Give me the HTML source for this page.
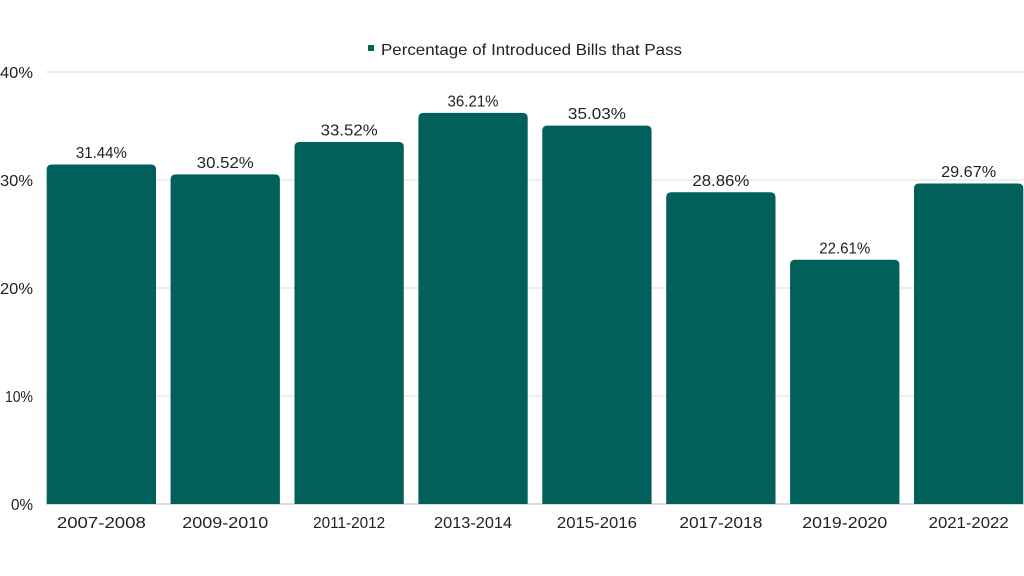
<!DOCTYPE html>
<html>
<head>
<meta charset="utf-8">
<style>
html,body{margin:0;padding:0;background:#fff;}
svg{display:block;}
text{font-family:"Liberation Sans",sans-serif;fill:#222;}
</style>
</head>
<body>
<svg width="1024" height="576" viewBox="0 0 1024 576" xmlns="http://www.w3.org/2000/svg">
<rect width="1024" height="576" fill="#fff"/>
<!-- legend -->
<rect x="368" y="45" width="6" height="6" fill="#02605a"/>
<text x="381" y="55" font-size="16" textLength="301" lengthAdjust="spacingAndGlyphs">Percentage of Introduced Bills that Pass</text>
<!-- gridlines -->
<g stroke="#e8e8e8" stroke-width="1.5">
<line x1="46" y1="72" x2="1024" y2="72"/>
<line x1="46" y1="180" x2="1024" y2="180"/>
<line x1="46" y1="288" x2="1024" y2="288"/>
<line x1="46" y1="396" x2="1024" y2="396"/>
</g>
<line x1="46" y1="504" x2="1024" y2="504" stroke="#d0d0d0" stroke-width="1.5"/>
<!-- y labels -->
<g font-size="16" text-anchor="end">
<text x="33" y="78" textLength="33" lengthAdjust="spacingAndGlyphs">40%</text>
<text x="33" y="186" textLength="33" lengthAdjust="spacingAndGlyphs">30%</text>
<text x="33" y="294" textLength="33" lengthAdjust="spacingAndGlyphs">20%</text>
<text x="33" y="402" textLength="28" lengthAdjust="spacingAndGlyphs">10%</text>
<text x="33" y="510" textLength="22" lengthAdjust="spacingAndGlyphs">0%</text>
</g>
<!-- bars -->
<g fill="#02605a">
<path d="M46.7,504 V169.45 Q46.7,164.45 51.7,164.45 H151 Q156,164.45 156,169.45 V504 Z"/>
<path d="M170.6,504 V179.38 Q170.6,174.38 175.6,174.38 H274.9 Q279.9,174.38 279.9,179.38 V504 Z"/>
<path d="M294.5,504 V146.98 Q294.5,141.98 299.5,141.98 H398.8 Q403.8,141.98 403.8,146.98 V504 Z"/>
<path d="M418.4,504 V117.93 Q418.4,112.93 423.4,112.93 H522.7 Q527.7,112.93 527.7,117.93 V504 Z"/>
<path d="M542.3,504 V130.68 Q542.3,125.68 547.3,125.68 H646.6 Q651.6,125.68 651.6,130.68 V504 Z"/>
<path d="M666.2,504 V197.31 Q666.2,192.31 671.2,192.31 H770.5 Q775.5,192.31 775.5,197.31 V504 Z"/>
<path d="M790.1,504 V264.81 Q790.1,259.81 795.1,259.81 H894.4 Q899.4,259.81 899.4,264.81 V504 Z"/>
<path d="M914,504 V188.56 Q914,183.56 919,183.56 H1018.3 Q1023.3,183.56 1023.3,188.56 V504 Z"/>
</g>
<!-- value labels -->
<g font-size="16" text-anchor="middle">
<text x="101.35" y="158" textLength="51" lengthAdjust="spacingAndGlyphs">31.44%</text>
<text x="225.25" y="168" textLength="57" lengthAdjust="spacingAndGlyphs">30.52%</text>
<text x="349.15" y="135.5" textLength="57" lengthAdjust="spacingAndGlyphs">33.52%</text>
<text x="473.05" y="106.5" textLength="51" lengthAdjust="spacingAndGlyphs">36.21%</text>
<text x="596.95" y="119.2" textLength="58" lengthAdjust="spacingAndGlyphs">35.03%</text>
<text x="720.85" y="185.8" textLength="57" lengthAdjust="spacingAndGlyphs">28.86%</text>
<text x="844.75" y="253.3" textLength="51" lengthAdjust="spacingAndGlyphs">22.61%</text>
<text x="968.65" y="177" textLength="55" lengthAdjust="spacingAndGlyphs">29.67%</text>
</g>
<!-- x labels -->
<g font-size="16" text-anchor="middle">
<text x="101.35" y="528" textLength="89" lengthAdjust="spacingAndGlyphs">2007-2008</text>
<text x="225.25" y="528" textLength="86" lengthAdjust="spacingAndGlyphs">2009-2010</text>
<text x="349.15" y="528" textLength="72" lengthAdjust="spacingAndGlyphs">2011-2012</text>
<text x="473.05" y="528" textLength="78" lengthAdjust="spacingAndGlyphs">2013-2014</text>
<text x="596.95" y="528" textLength="80" lengthAdjust="spacingAndGlyphs">2015-2016</text>
<text x="720.85" y="528" textLength="83" lengthAdjust="spacingAndGlyphs">2017-2018</text>
<text x="844.75" y="528" textLength="85" lengthAdjust="spacingAndGlyphs">2019-2020</text>
<text x="968.65" y="528" textLength="80" lengthAdjust="spacingAndGlyphs">2021-2022</text>
</g>
</svg>
</body>
</html>
